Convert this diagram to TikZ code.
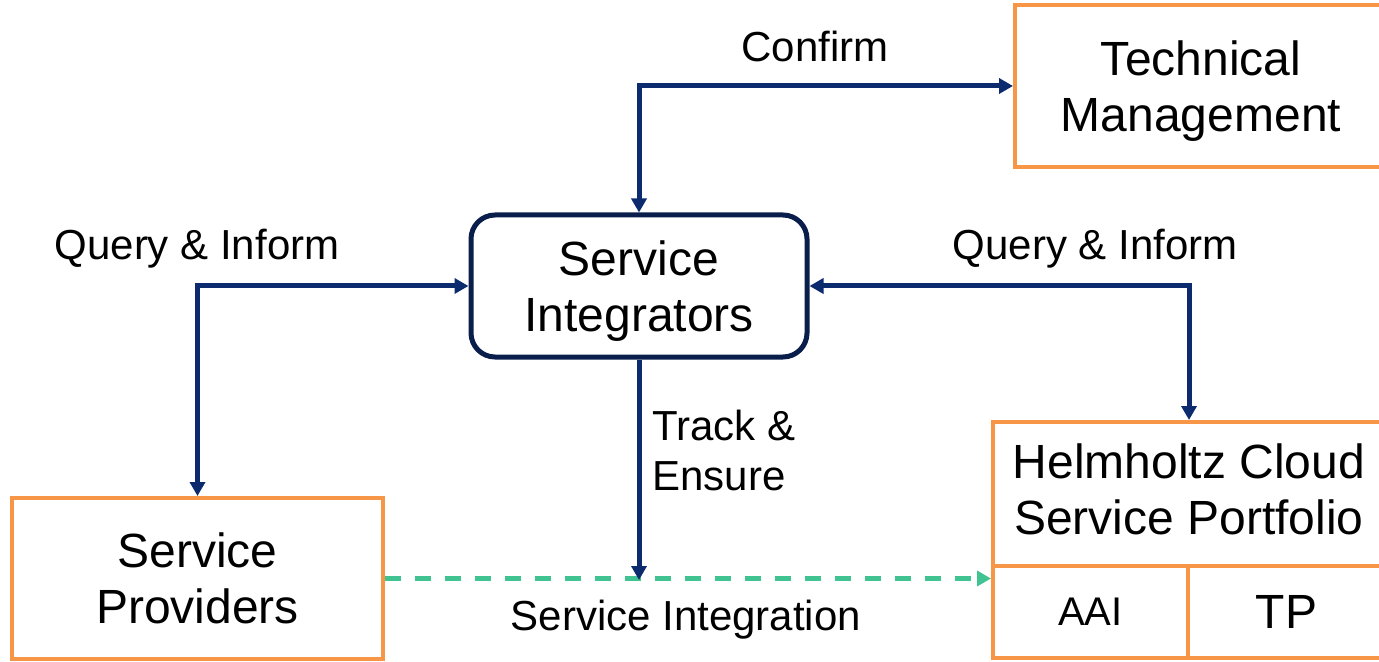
\documentclass[tikz,border=0pt]{standalone}
\usepackage{fontspec}
\setmainfont{Liberation Sans}
\usetikzlibrary{arrows.meta}
\definecolor{navy}{RGB}{12,42,110}
\definecolor{darknavy}{RGB}{10,30,75}
\definecolor{boxorange}{RGB}{247,150,70}
\definecolor{flowgreen}{RGB}{64,194,145}
\tikzset{
  box/.style={draw=boxorange, line width=2pt, align=center, inner sep=0pt,
    text depth=0pt, font=\fontsize{24}{28}\selectfont},
  sibox/.style={draw=darknavy, line width=2.5pt, rounded corners=12pt,
    align=center, inner sep=0pt, minimum width=168pt, minimum height=71pt,
    text depth=0pt, font=\fontsize{24}{28}\selectfont},
  lbl/.style={font=\fontsize{21}{25}\selectfont, inner sep=0pt},
  flow/.style={draw=navy, line width=2.5pt,
    {Triangle[length=7pt,width=7.5pt]}-{Triangle[length=7pt,width=7.5pt]}},
  oneway/.style={draw=navy, line width=2.5pt, -{Triangle[length=7pt,width=7.5pt]}},
  dashflow/.style={draw=flowgreen, line width=2.5pt, dash pattern=on 8pt off 7pt,
    -{Triangle[length=7pt,width=7.5pt]}}
}
\begin{document}
\begin{tikzpicture}[x=0.5pt, y=-0.5pt]
        \useasboundingbox (0,0) rectangle (1379,662);
        % boxes
        \node[sibox] (si) at (639,286) {Service\\Integrators};
        \node[box, minimum width=186pt, minimum height=81pt] (tm) at (1201,86)
          {Technical\\Management};
        \node[box, minimum width=185.5pt, minimum height=80.5pt] (sp) at (197.5,578.5)
          {Service\\Providers};
        \node[box, minimum width=196pt, minimum height=72pt, text depth=5pt] (hc) at (1189,494)
          {Helmholtz Cloud\\Service Portfolio};
        \node[box, minimum width=97.5pt, minimum height=46pt,
          font=\fontsize{20}{24}\selectfont] (aai) at (1090.5,612) {AAI};
        \node[box, minimum width=98.5pt, minimum height=46pt] (tp) at (1286.5,612) {TP};
        % labels
        \node[lbl] (confirm) at (815,46) {Confirm};
        \node[lbl] (qileft) at (197,249) {Query \& Inform};
        \node[lbl] (qiright) at (1095,249) {Query \& Inform};
        \node[lbl, anchor=west, align=left] (track) at (652,450) {Track \&\\Ensure};
        \node[lbl] (integ) at (686,620) {Service Integration};
        % connectors
        \coordinate (meet) at (639,580);
        \draw[flow] (tm.west) -| (si.north);
        \draw[flow] (si.west) -| (sp.north);
        \draw[flow] (si.east) -| (hc.north);
        \draw[dashflow] (sp.east) -- (sp.east -| aai.west);
        \draw[oneway] (si.south) -- (meet);
      \end{tikzpicture}
\end{document}
